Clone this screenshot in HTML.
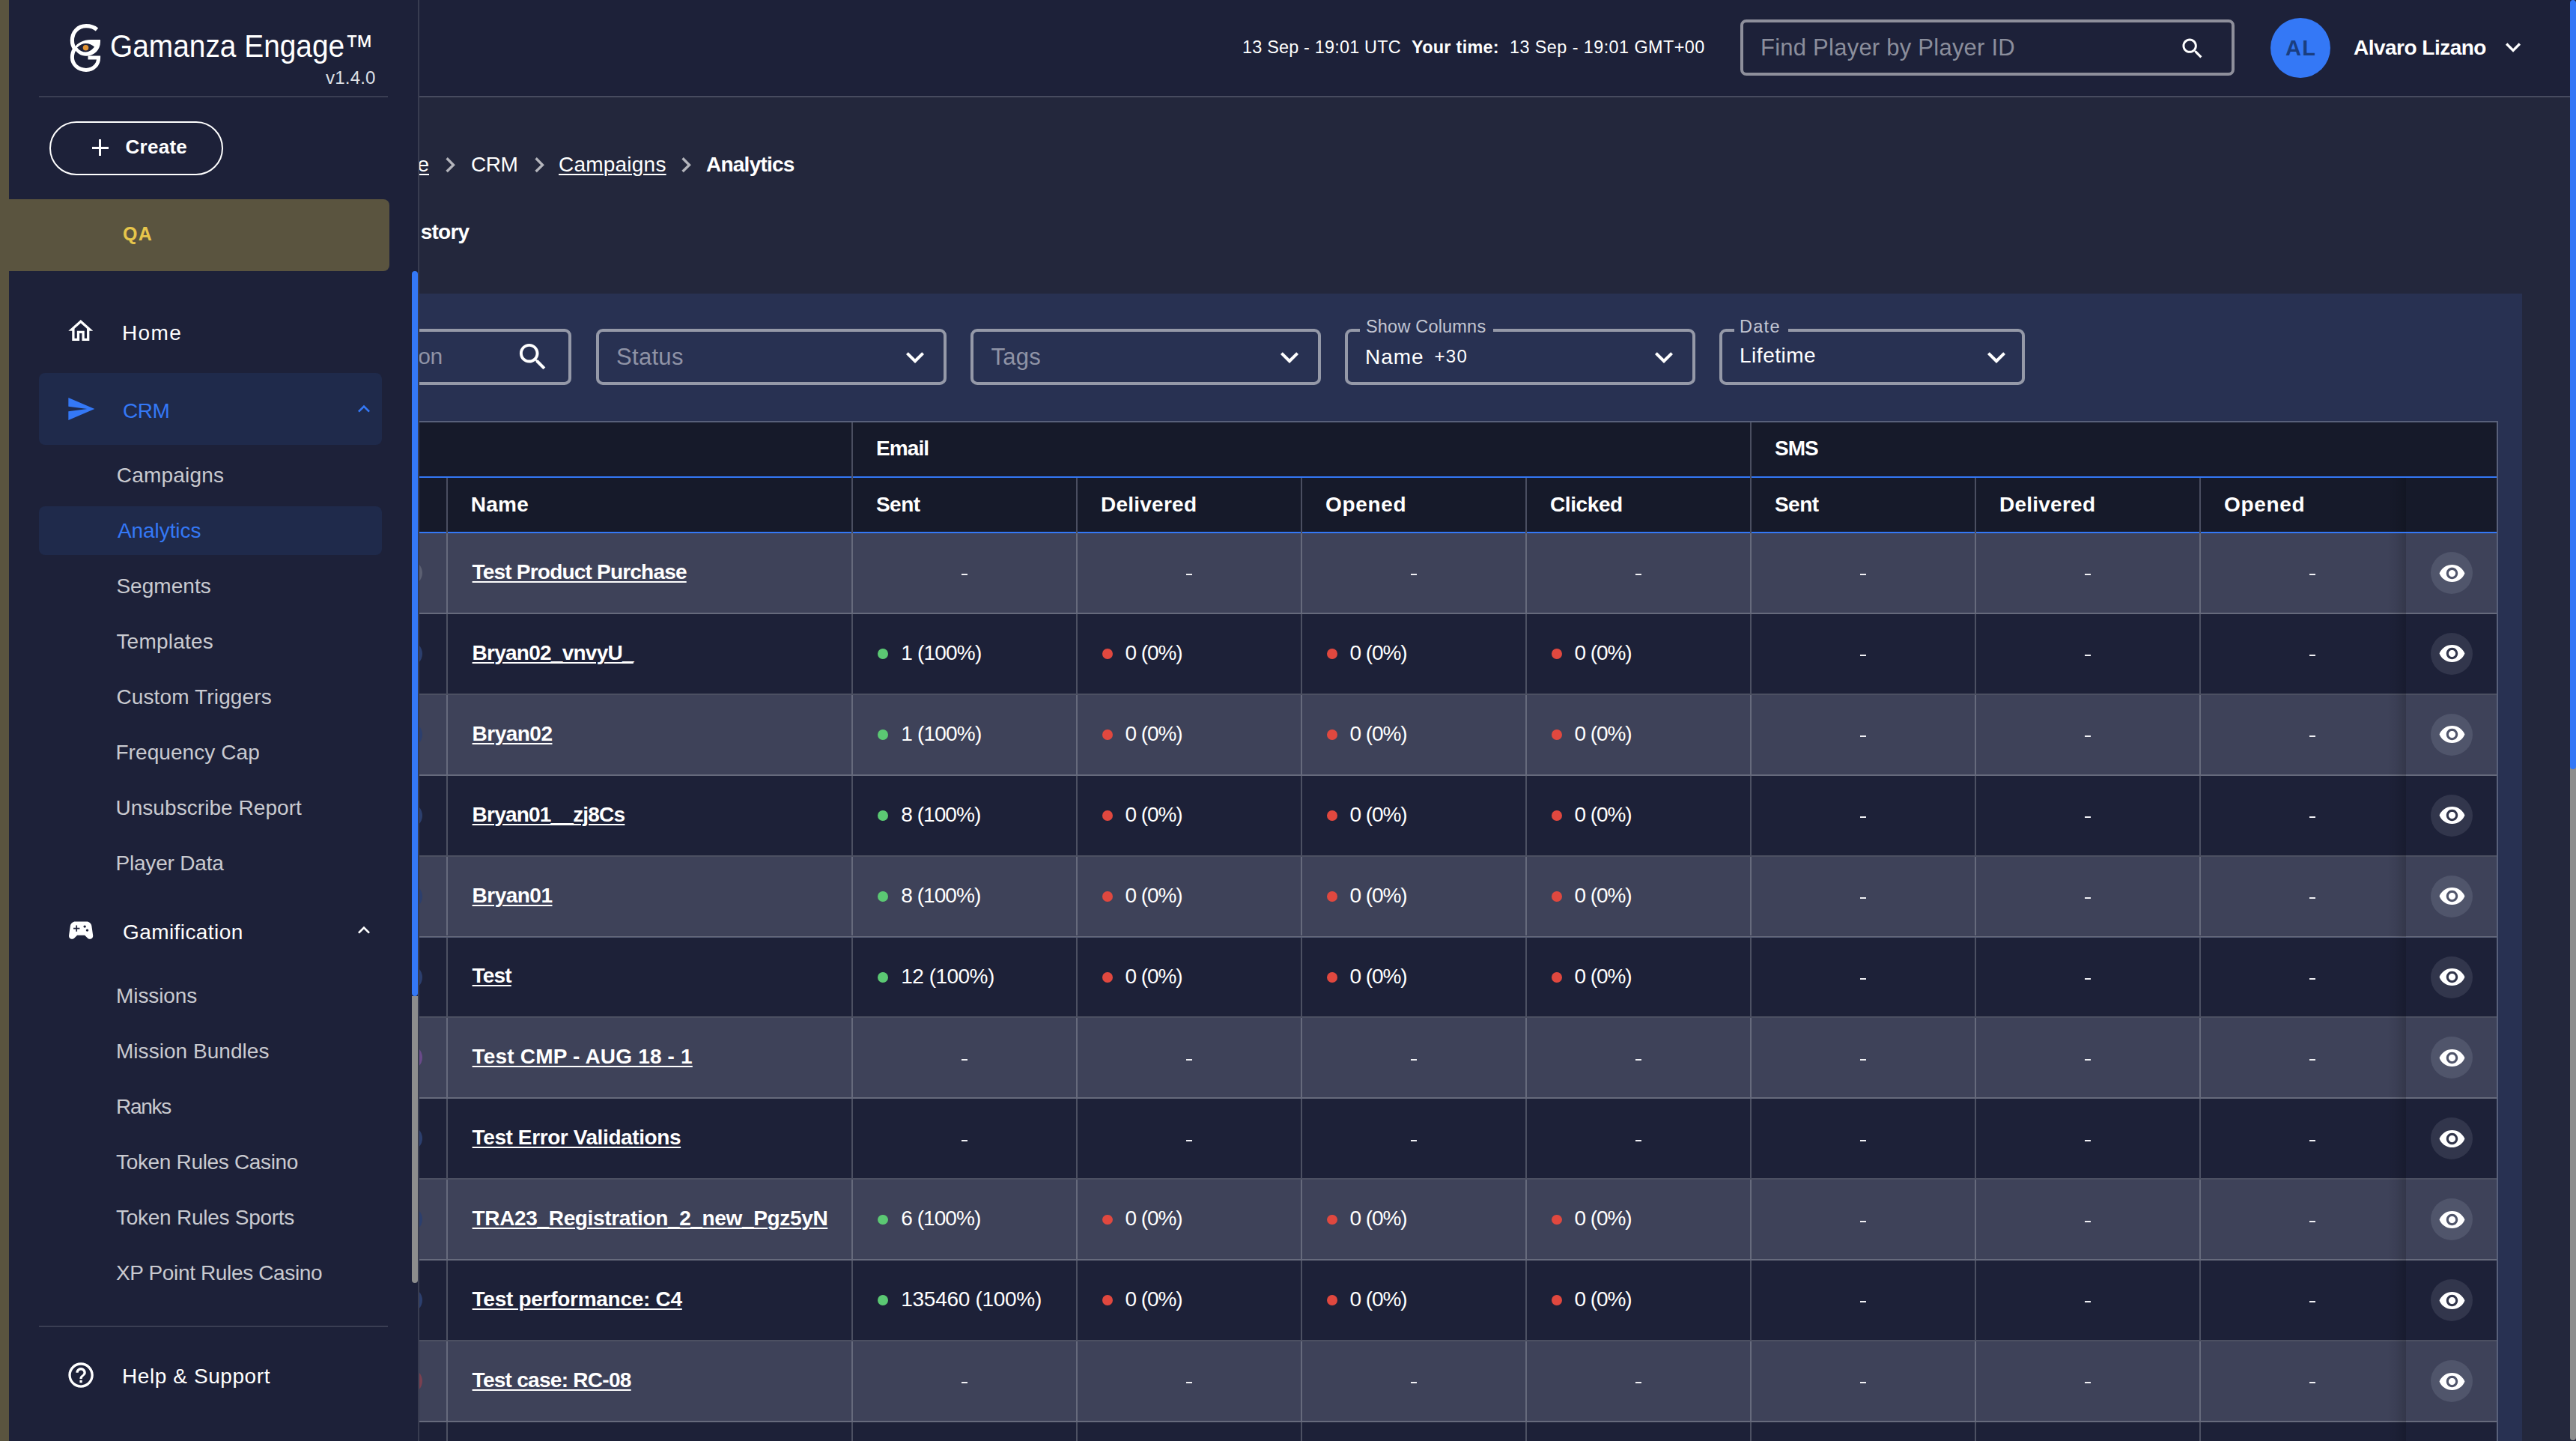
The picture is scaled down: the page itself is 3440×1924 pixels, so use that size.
<!DOCTYPE html>
<html><head><meta charset="utf-8"><title>Gamanza Engage - Analytics</title>
<style>
*{box-sizing:border-box;margin:0;padding:0}
html,body{width:3440px;height:1924px;overflow:hidden;background:#23273c;font-family:"Liberation Sans",Arial,sans-serif}
.t{position:absolute;line-height:1;white-space:nowrap}
.r{position:absolute}
.ic{position:absolute;overflow:visible}
.u{text-decoration:underline;text-decoration-thickness:2px;text-underline-offset:3px}
#side{position:absolute;left:0;top:0;width:560px;height:1924px;background:#1d2139;border-right:2px solid #383c50;z-index:5;overflow:hidden}
#main{position:absolute;left:0;top:0;width:3440px;height:1924px;overflow:hidden}
</style></head><body>
<div id="main">
<div class="r" style="left:0px;top:0px;width:3440px;height:128px;background:#1d2139;"></div>
<div class="r" style="left:0px;top:128px;width:3440px;height:2px;background:#474b5f;"></div>
<div class="t " style="left:1659px;top:52.11px;font-size:23.4px;color:#fff;font-weight:400;letter-spacing:0.21px;">13 Sep - 19:01 UTC</div>
<div class="t " style="left:1885px;top:52.11px;font-size:23.4px;color:#fff;font-weight:700;letter-spacing:0.3px;">Your time:</div>
<div class="t " style="left:2016px;top:52.11px;font-size:23.4px;color:#fff;font-weight:400;letter-spacing:0.43px;">13 Sep - 19:01 GMT+00</div>
<div class="r" style="left:2324px;top:26px;width:660px;height:75px;background:transparent;border:4px solid #8e8f9b;border-radius:8px"></div>
<div class="t " style="left:2351px;top:47.65px;font-size:31px;color:#8b8e9c;font-weight:400;letter-spacing:0.24px;">Find Player by Player ID</div>
<svg class="ic" style="left:2909.53px;top:46.53px;width:35.76px;height:35.76px" viewBox="0 0 24 24"><path fill="#fff" d="M15.5 14h-.79l-.28-.27C15.41 12.59 16 11.11 16 9.5 16 5.91 13.09 3 9.5 3S3 5.91 3 9.5 5.91 16 9.5 16c1.61 0 3.09-.59 4.23-1.57l.27.28v.79l5 4.99L20.49 19l-4.99-5zm-6 0C7.01 14 5 11.99 5 9.5S7.01 5 9.5 5 14 7.01 14 9.5 11.99 14 9.5 14z" /></svg>
<div class="r" style="left:3032px;top:24px;width:80px;height:80px;background:#3478f6;border-radius:50%"></div>
<div class="t " style="left:3032px;top:50.35px;font-size:29px;color:#1a3e80;font-weight:700;letter-spacing:1.5px;width:81.5px;text-align:center;">AL</div>
<div class="t " style="left:3143px;top:49.70px;font-size:28px;color:#fff;font-weight:700;letter-spacing:-0.51px;">Alvaro Lizano</div>
<svg class="ic" style="left:3335.98px;top:42.6547px;width:40.08px;height:40.08px" viewBox="0 0 24 24"><path fill="#fff" d="M16.59 8.59L12 13.17 7.41 8.59 6 10l6 6 6-6z" /></svg>
<div class="t u" style="left:573px;transform:translateX(-100%);top:205.70px;font-size:28px;color:#fff;font-weight:400;">Home</div>
<svg class="ic" style="left:580.5688px;top:199.92px;width:40.32px;height:40.32px" viewBox="0 0 24 24"><path fill="#b4b5bc" d="M10 6L8.59 7.41 13.17 12l-4.58 4.59L10 18l6-6z" /></svg>
<div class="t " style="left:629px;top:205.70px;font-size:28px;color:#fff;font-weight:400;letter-spacing:-0.53px;">CRM</div>
<svg class="ic" style="left:699.5688px;top:199.92px;width:40.32px;height:40.32px" viewBox="0 0 24 24"><path fill="#b4b5bc" d="M10 6L8.59 7.41 13.17 12l-4.58 4.59L10 18l6-6z" /></svg>
<div class="t u" style="left:746px;top:205.70px;font-size:28px;color:#fff;font-weight:400;letter-spacing:0.22px;">Campaigns</div>
<svg class="ic" style="left:896.1688px;top:199.92px;width:40.32px;height:40.32px" viewBox="0 0 24 24"><path fill="#b4b5bc" d="M10 6L8.59 7.41 13.17 12l-4.58 4.59L10 18l6-6z" /></svg>
<div class="t " style="left:943px;top:205.70px;font-size:28px;color:#fff;font-weight:700;letter-spacing:-0.76px;">Analytics</div>
<div class="t " style="left:626.3px;transform:translateX(-100%);top:295.50px;font-size:28px;color:#fff;font-weight:700;letter-spacing:-0.8px;">Campaign Hi<span style="margin-left:4px">story</span></div>
<div class="r" style="left:0px;top:392px;width:3368px;height:1600px;background:#283152;"></div>
<div class="r" style="left:300px;top:439px;width:463px;height:75px;background:transparent;border:4px solid #9599a8;border-radius:9px"></div>
<div class="t " style="left:590.5px;transform:translateX(-100%);top:461.00px;font-size:30px;color:#8f93a6;font-weight:400;letter-spacing:-0.6px;">Search by name or description</div>
<svg class="ic" style="left:688.09px;top:453.09px;width:47.28px;height:47.28px" viewBox="0 0 24 24"><path fill="#fff" d="M15.5 14h-.79l-.28-.27C15.41 12.59 16 11.11 16 9.5 16 5.91 13.09 3 9.5 3S3 5.91 3 9.5 5.91 16 9.5 16c1.61 0 3.09-.59 4.23-1.57l.27.28v.79l5 4.99L20.49 19l-4.99-5zm-6 0C7.01 14 5 11.99 5 9.5S7.01 5 9.5 5 14 7.01 14 9.5 11.99 14 9.5 14z" /></svg>
<div class="r" style="left:796px;top:439px;width:468px;height:75px;background:transparent;border:4px solid #9599a8;border-radius:9px"></div>
<div class="t " style="left:823px;top:460.65px;font-size:31px;color:#8f93a6;font-weight:400;letter-spacing:0.3px;">Status</div>
<svg class="ic" style="left:1198px;top:452.82px;width:48px;height:48px" viewBox="0 0 24 24"><path fill="#fff" d="M16.59 8.59L12 13.17 7.41 8.59 6 10l6 6 6-6z" /></svg>
<div class="r" style="left:1296px;top:439px;width:468px;height:75px;background:transparent;border:4px solid #9599a8;border-radius:9px"></div>
<div class="t " style="left:1323.4px;top:460.65px;font-size:31px;color:#8f93a6;font-weight:400;letter-spacing:0.3px;">Tags</div>
<svg class="ic" style="left:1698px;top:452.82px;width:48px;height:48px" viewBox="0 0 24 24"><path fill="#fff" d="M16.59 8.59L12 13.17 7.41 8.59 6 10l6 6 6-6z" /></svg>
<div class="r" style="left:1796px;top:439px;width:468px;height:75px;background:transparent;border:4px solid #9599a8;border-radius:9px"></div>
<div class="r" style="left:1816px;top:435px;width:178px;height:10px;background:#283152;"></div>
<div class="t " style="left:1824px;top:425.02px;font-size:23.5px;color:#c3c6d2;font-weight:400;letter-spacing:0.19px;">Show Columns</div>
<div class="t " style="left:1823px;top:463.20px;font-size:28px;color:#fff;font-weight:400;letter-spacing:1.0px;">Name</div>
<div class="t " style="left:1915.6px;top:464.10px;font-size:24px;color:#fff;font-weight:400;letter-spacing:1.26px;">+30</div>
<svg class="ic" style="left:2198px;top:452.82px;width:48px;height:48px" viewBox="0 0 24 24"><path fill="#fff" d="M16.59 8.59L12 13.17 7.41 8.59 6 10l6 6 6-6z" /></svg>
<div class="r" style="left:2296px;top:439px;width:408px;height:75px;background:transparent;border:4px solid #9599a8;border-radius:9px"></div>
<div class="r" style="left:2316px;top:435px;width:72px;height:10px;background:#283152;"></div>
<div class="t " style="left:2323px;top:425.02px;font-size:23.5px;color:#c3c6d2;font-weight:400;letter-spacing:1.27px;">Date</div>
<div class="t " style="left:2323px;top:460.70px;font-size:28px;color:#fff;font-weight:400;letter-spacing:0.52px;">Lifetime</div>
<svg class="ic" style="left:2642px;top:452.82px;width:48px;height:48px" viewBox="0 0 24 24"><path fill="#fff" d="M16.59 8.59L12 13.17 7.41 8.59 6 10l6 6 6-6z" /></svg>
<div class="r" style="left:300px;top:562px;width:3036px;height:2px;background:#58607a;"></div>
<div class="r" style="left:300px;top:564px;width:3034px;height:146px;background:#161a2a;"></div>
<div class="r" style="left:300px;top:636px;width:3034px;height:2px;background:#3478f6;"></div>
<div class="r" style="left:300px;top:710px;width:3034px;height:2px;background:#3478f6;"></div>
<div class="r" style="left:3334px;top:562px;width:2px;height:1400px;background:#58607a;"></div>
<div class="r" style="left:1137px;top:564px;width:2px;height:74px;background:#4a4e60;"></div>
<div class="r" style="left:2337px;top:564px;width:2px;height:74px;background:#4a4e60;"></div>
<div class="r" style="left:595.7px;top:638px;width:2px;height:74px;background:#4a4e60;"></div>
<div class="r" style="left:1137px;top:638px;width:2px;height:74px;background:#4a4e60;"></div>
<div class="r" style="left:1437px;top:638px;width:2px;height:74px;background:#4a4e60;"></div>
<div class="r" style="left:1737px;top:638px;width:2px;height:74px;background:#4a4e60;"></div>
<div class="r" style="left:2037px;top:638px;width:2px;height:74px;background:#4a4e60;"></div>
<div class="r" style="left:2337px;top:638px;width:2px;height:74px;background:#4a4e60;"></div>
<div class="r" style="left:2637px;top:638px;width:2px;height:74px;background:#4a4e60;"></div>
<div class="r" style="left:2937px;top:638px;width:2px;height:74px;background:#4a4e60;"></div>
<div class="t " style="left:1170px;top:585.20px;font-size:28px;color:#fff;font-weight:700;letter-spacing:-0.9px;">Email</div>
<div class="t " style="left:2370px;top:585.20px;font-size:28px;color:#fff;font-weight:700;letter-spacing:-1.0px;">SMS</div>
<div class="t " style="left:628.7px;top:659.70px;font-size:28px;color:#fff;font-weight:700;letter-spacing:0.31000000000000005px;">Name</div>
<div class="t " style="left:1170px;top:659.70px;font-size:28px;color:#fff;font-weight:700;letter-spacing:-0.5599999999999999px;">Sent</div>
<div class="t " style="left:1470px;top:659.70px;font-size:28px;color:#fff;font-weight:700;letter-spacing:0.24000000000000002px;">Delivered</div>
<div class="t " style="left:1770px;top:659.70px;font-size:28px;color:#fff;font-weight:700;letter-spacing:0.69px;">Opened</div>
<div class="t " style="left:2070px;top:659.70px;font-size:28px;color:#fff;font-weight:700;letter-spacing:-0.4px;">Clicked</div>
<div class="t " style="left:2370px;top:659.70px;font-size:28px;color:#fff;font-weight:700;letter-spacing:-0.5599999999999999px;">Sent</div>
<div class="t " style="left:2670px;top:659.70px;font-size:28px;color:#fff;font-weight:700;letter-spacing:0.24000000000000002px;">Delivered</div>
<div class="t " style="left:2970px;top:659.70px;font-size:28px;color:#fff;font-weight:700;letter-spacing:0.69px;">Opened</div>
<div class="r" style="left:300px;top:712.0px;width:3034px;height:107.9px;background:#3e4259;"></div>
<div class="r" style="left:300px;top:817.9px;width:3034px;height:2px;background:rgba(255,255,255,0.21);"></div>
<div class="r" style="left:530px;top:748.0px;width:34px;height:34px;background:#5c6072;border-radius:50%"></div>
<div class="r" style="left:595.7px;top:712.0px;width:2px;height:105.9px;background:rgba(255,255,255,0.21);"></div>
<div class="r" style="left:1137px;top:712.0px;width:2px;height:105.9px;background:rgba(255,255,255,0.21);"></div>
<div class="r" style="left:1437px;top:712.0px;width:2px;height:105.9px;background:rgba(255,255,255,0.21);"></div>
<div class="r" style="left:1737px;top:712.0px;width:2px;height:105.9px;background:rgba(255,255,255,0.21);"></div>
<div class="r" style="left:2037px;top:712.0px;width:2px;height:105.9px;background:rgba(255,255,255,0.21);"></div>
<div class="r" style="left:2337px;top:712.0px;width:2px;height:105.9px;background:rgba(255,255,255,0.21);"></div>
<div class="r" style="left:2637px;top:712.0px;width:2px;height:105.9px;background:rgba(255,255,255,0.21);"></div>
<div class="r" style="left:2937px;top:712.0px;width:2px;height:105.9px;background:rgba(255,255,255,0.21);"></div>
<div class="t u" style="left:630.6px;top:749.90px;font-size:28px;color:#fff;font-weight:700;letter-spacing:-0.8px;">Test Product Purchase</div>
<div class="r" style="left:1284.2px;top:766.3px;width:7.6px;height:2px;background:#f0f0f4;"></div>
<div class="r" style="left:1584.2px;top:766.3px;width:7.6px;height:2px;background:#f0f0f4;"></div>
<div class="r" style="left:1884.2px;top:766.3px;width:7.6px;height:2px;background:#f0f0f4;"></div>
<div class="r" style="left:2184.2px;top:766.3px;width:7.6px;height:2px;background:#f0f0f4;"></div>
<div class="r" style="left:2484.2px;top:766.3px;width:7.6px;height:2px;background:#f0f0f4;"></div>
<div class="r" style="left:2784.2px;top:766.3px;width:7.6px;height:2px;background:#f0f0f4;"></div>
<div class="r" style="left:3084.2px;top:766.3px;width:7.6px;height:2px;background:#f0f0f4;"></div>
<div class="r" style="left:3188px;top:712.0px;width:25px;height:107.9px;background:linear-gradient(to right,rgba(0,0,0,0) 0%,rgba(0,0,0,0.05) 45%,rgba(0,0,0,0.17) 100%);"></div>
<div class="r" style="left:3213px;top:712.0px;width:121px;height:105.9px;background:#3e4259;"></div>
<div class="r" style="left:3246px;top:737.0px;width:56px;height:56px;background:#50556b;border-radius:50%"></div>
<svg class="ic" style="left:3255.5px;top:746.5px;width:37px;height:37px" viewBox="0 0 24 24"><path fill="#fff" d="M12 4.5C7 4.5 2.73 7.61 1 12c1.73 4.39 6 7.5 11 7.5s9.27-3.11 11-7.5c-1.73-4.39-6-7.5-11-7.5zM12 17c-2.76 0-5-2.24-5-5s2.24-5 5-5 5 2.24 5 5-2.24 5-5 5zm0-8c-1.66 0-3 1.34-3 3s1.34 3 3 3 3-1.34 3-3-1.34-3-3-3z" /></svg>
<div class="r" style="left:300px;top:819.9px;width:3034px;height:107.9px;background:#1d2138;"></div>
<div class="r" style="left:300px;top:925.8px;width:3034px;height:2px;background:rgba(255,255,255,0.21);"></div>
<div class="r" style="left:530px;top:855.9px;width:34px;height:34px;background:#2c3f6e;border-radius:50%"></div>
<div class="r" style="left:595.7px;top:819.9px;width:2px;height:105.9px;background:rgba(255,255,255,0.21);"></div>
<div class="r" style="left:1137px;top:819.9px;width:2px;height:105.9px;background:rgba(255,255,255,0.21);"></div>
<div class="r" style="left:1437px;top:819.9px;width:2px;height:105.9px;background:rgba(255,255,255,0.21);"></div>
<div class="r" style="left:1737px;top:819.9px;width:2px;height:105.9px;background:rgba(255,255,255,0.21);"></div>
<div class="r" style="left:2037px;top:819.9px;width:2px;height:105.9px;background:rgba(255,255,255,0.21);"></div>
<div class="r" style="left:2337px;top:819.9px;width:2px;height:105.9px;background:rgba(255,255,255,0.21);"></div>
<div class="r" style="left:2637px;top:819.9px;width:2px;height:105.9px;background:rgba(255,255,255,0.21);"></div>
<div class="r" style="left:2937px;top:819.9px;width:2px;height:105.9px;background:rgba(255,255,255,0.21);"></div>
<div class="t u" style="left:630.6px;top:857.80px;font-size:28px;color:#fff;font-weight:700;letter-spacing:-0.75px;">Bryan02_vnvyU_</div>
<div class="r" style="left:1172px;top:866.2px;width:13.8px;height:13.8px;background:#5bc873;border-radius:50%"></div>
<div class="t " style="left:1203.3px;top:858.10px;font-size:28px;color:#fff;font-weight:400;letter-spacing:-0.81px;">1 (100%)</div>
<div class="r" style="left:1472px;top:866.2px;width:13.8px;height:13.8px;background:#e0483f;border-radius:50%"></div>
<div class="t " style="left:1502.6px;top:858.10px;font-size:28px;color:#fff;font-weight:400;letter-spacing:-1.1px;">0 (0%)</div>
<div class="r" style="left:1772px;top:866.2px;width:13.8px;height:13.8px;background:#e0483f;border-radius:50%"></div>
<div class="t " style="left:1802.6px;top:858.10px;font-size:28px;color:#fff;font-weight:400;letter-spacing:-1.1px;">0 (0%)</div>
<div class="r" style="left:2072px;top:866.2px;width:13.8px;height:13.8px;background:#e0483f;border-radius:50%"></div>
<div class="t " style="left:2102.6px;top:858.10px;font-size:28px;color:#fff;font-weight:400;letter-spacing:-1.1px;">0 (0%)</div>
<div class="r" style="left:2484.2px;top:874.1999999999999px;width:7.6px;height:2px;background:#f0f0f4;"></div>
<div class="r" style="left:2784.2px;top:874.1999999999999px;width:7.6px;height:2px;background:#f0f0f4;"></div>
<div class="r" style="left:3084.2px;top:874.1999999999999px;width:7.6px;height:2px;background:#f0f0f4;"></div>
<div class="r" style="left:3188px;top:819.9px;width:25px;height:107.9px;background:linear-gradient(to right,rgba(0,0,0,0) 0%,rgba(0,0,0,0.05) 45%,rgba(0,0,0,0.17) 100%);"></div>
<div class="r" style="left:3213px;top:819.9px;width:121px;height:105.9px;background:#1d2138;"></div>
<div class="r" style="left:3246px;top:844.9px;width:56px;height:56px;background:#32364c;border-radius:50%"></div>
<svg class="ic" style="left:3255.5px;top:854.4px;width:37px;height:37px" viewBox="0 0 24 24"><path fill="#fff" d="M12 4.5C7 4.5 2.73 7.61 1 12c1.73 4.39 6 7.5 11 7.5s9.27-3.11 11-7.5c-1.73-4.39-6-7.5-11-7.5zM12 17c-2.76 0-5-2.24-5-5s2.24-5 5-5 5 2.24 5 5-2.24 5-5 5zm0-8c-1.66 0-3 1.34-3 3s1.34 3 3 3 3-1.34 3-3-1.34-3-3-3z" /></svg>
<div class="r" style="left:300px;top:927.8px;width:3034px;height:107.9px;background:#3e4259;"></div>
<div class="r" style="left:300px;top:1033.7px;width:3034px;height:2px;background:rgba(255,255,255,0.21);"></div>
<div class="r" style="left:530px;top:963.8px;width:34px;height:34px;background:#2c3f6e;border-radius:50%"></div>
<div class="r" style="left:595.7px;top:927.8px;width:2px;height:105.9px;background:rgba(255,255,255,0.21);"></div>
<div class="r" style="left:1137px;top:927.8px;width:2px;height:105.9px;background:rgba(255,255,255,0.21);"></div>
<div class="r" style="left:1437px;top:927.8px;width:2px;height:105.9px;background:rgba(255,255,255,0.21);"></div>
<div class="r" style="left:1737px;top:927.8px;width:2px;height:105.9px;background:rgba(255,255,255,0.21);"></div>
<div class="r" style="left:2037px;top:927.8px;width:2px;height:105.9px;background:rgba(255,255,255,0.21);"></div>
<div class="r" style="left:2337px;top:927.8px;width:2px;height:105.9px;background:rgba(255,255,255,0.21);"></div>
<div class="r" style="left:2637px;top:927.8px;width:2px;height:105.9px;background:rgba(255,255,255,0.21);"></div>
<div class="r" style="left:2937px;top:927.8px;width:2px;height:105.9px;background:rgba(255,255,255,0.21);"></div>
<div class="t u" style="left:630.6px;top:965.70px;font-size:28px;color:#fff;font-weight:700;letter-spacing:-0.52px;">Bryan02</div>
<div class="r" style="left:1172px;top:974.1px;width:13.8px;height:13.8px;background:#5bc873;border-radius:50%"></div>
<div class="t " style="left:1203.3px;top:966.00px;font-size:28px;color:#fff;font-weight:400;letter-spacing:-0.81px;">1 (100%)</div>
<div class="r" style="left:1472px;top:974.1px;width:13.8px;height:13.8px;background:#e0483f;border-radius:50%"></div>
<div class="t " style="left:1502.6px;top:966.00px;font-size:28px;color:#fff;font-weight:400;letter-spacing:-1.1px;">0 (0%)</div>
<div class="r" style="left:1772px;top:974.1px;width:13.8px;height:13.8px;background:#e0483f;border-radius:50%"></div>
<div class="t " style="left:1802.6px;top:966.00px;font-size:28px;color:#fff;font-weight:400;letter-spacing:-1.1px;">0 (0%)</div>
<div class="r" style="left:2072px;top:974.1px;width:13.8px;height:13.8px;background:#e0483f;border-radius:50%"></div>
<div class="t " style="left:2102.6px;top:966.00px;font-size:28px;color:#fff;font-weight:400;letter-spacing:-1.1px;">0 (0%)</div>
<div class="r" style="left:2484.2px;top:982.0999999999999px;width:7.6px;height:2px;background:#f0f0f4;"></div>
<div class="r" style="left:2784.2px;top:982.0999999999999px;width:7.6px;height:2px;background:#f0f0f4;"></div>
<div class="r" style="left:3084.2px;top:982.0999999999999px;width:7.6px;height:2px;background:#f0f0f4;"></div>
<div class="r" style="left:3188px;top:927.8px;width:25px;height:107.9px;background:linear-gradient(to right,rgba(0,0,0,0) 0%,rgba(0,0,0,0.05) 45%,rgba(0,0,0,0.17) 100%);"></div>
<div class="r" style="left:3213px;top:927.8px;width:121px;height:105.9px;background:#3e4259;"></div>
<div class="r" style="left:3246px;top:952.8px;width:56px;height:56px;background:#50556b;border-radius:50%"></div>
<svg class="ic" style="left:3255.5px;top:962.3px;width:37px;height:37px" viewBox="0 0 24 24"><path fill="#fff" d="M12 4.5C7 4.5 2.73 7.61 1 12c1.73 4.39 6 7.5 11 7.5s9.27-3.11 11-7.5c-1.73-4.39-6-7.5-11-7.5zM12 17c-2.76 0-5-2.24-5-5s2.24-5 5-5 5 2.24 5 5-2.24 5-5 5zm0-8c-1.66 0-3 1.34-3 3s1.34 3 3 3 3-1.34 3-3-1.34-3-3-3z" /></svg>
<div class="r" style="left:300px;top:1035.7px;width:3034px;height:107.9px;background:#1d2138;"></div>
<div class="r" style="left:300px;top:1141.6000000000001px;width:3034px;height:2px;background:rgba(255,255,255,0.21);"></div>
<div class="r" style="left:530px;top:1071.7px;width:34px;height:34px;background:#2c3f6e;border-radius:50%"></div>
<div class="r" style="left:595.7px;top:1035.7px;width:2px;height:105.9px;background:rgba(255,255,255,0.21);"></div>
<div class="r" style="left:1137px;top:1035.7px;width:2px;height:105.9px;background:rgba(255,255,255,0.21);"></div>
<div class="r" style="left:1437px;top:1035.7px;width:2px;height:105.9px;background:rgba(255,255,255,0.21);"></div>
<div class="r" style="left:1737px;top:1035.7px;width:2px;height:105.9px;background:rgba(255,255,255,0.21);"></div>
<div class="r" style="left:2037px;top:1035.7px;width:2px;height:105.9px;background:rgba(255,255,255,0.21);"></div>
<div class="r" style="left:2337px;top:1035.7px;width:2px;height:105.9px;background:rgba(255,255,255,0.21);"></div>
<div class="r" style="left:2637px;top:1035.7px;width:2px;height:105.9px;background:rgba(255,255,255,0.21);"></div>
<div class="r" style="left:2937px;top:1035.7px;width:2px;height:105.9px;background:rgba(255,255,255,0.21);"></div>
<div class="t u" style="left:630.6px;top:1073.60px;font-size:28px;color:#fff;font-weight:700;letter-spacing:-0.79px;">Bryan01__zj8Cs</div>
<div class="r" style="left:1172px;top:1082.0px;width:13.8px;height:13.8px;background:#5bc873;border-radius:50%"></div>
<div class="t " style="left:1203.3px;top:1073.90px;font-size:28px;color:#fff;font-weight:400;letter-spacing:-0.95px;">8 (100%)</div>
<div class="r" style="left:1472px;top:1082.0px;width:13.8px;height:13.8px;background:#e0483f;border-radius:50%"></div>
<div class="t " style="left:1502.6px;top:1073.90px;font-size:28px;color:#fff;font-weight:400;letter-spacing:-1.1px;">0 (0%)</div>
<div class="r" style="left:1772px;top:1082.0px;width:13.8px;height:13.8px;background:#e0483f;border-radius:50%"></div>
<div class="t " style="left:1802.6px;top:1073.90px;font-size:28px;color:#fff;font-weight:400;letter-spacing:-1.1px;">0 (0%)</div>
<div class="r" style="left:2072px;top:1082.0px;width:13.8px;height:13.8px;background:#e0483f;border-radius:50%"></div>
<div class="t " style="left:2102.6px;top:1073.90px;font-size:28px;color:#fff;font-weight:400;letter-spacing:-1.1px;">0 (0%)</div>
<div class="r" style="left:2484.2px;top:1090.0px;width:7.6px;height:2px;background:#f0f0f4;"></div>
<div class="r" style="left:2784.2px;top:1090.0px;width:7.6px;height:2px;background:#f0f0f4;"></div>
<div class="r" style="left:3084.2px;top:1090.0px;width:7.6px;height:2px;background:#f0f0f4;"></div>
<div class="r" style="left:3188px;top:1035.7px;width:25px;height:107.9px;background:linear-gradient(to right,rgba(0,0,0,0) 0%,rgba(0,0,0,0.05) 45%,rgba(0,0,0,0.17) 100%);"></div>
<div class="r" style="left:3213px;top:1035.7px;width:121px;height:105.9px;background:#1d2138;"></div>
<div class="r" style="left:3246px;top:1060.7px;width:56px;height:56px;background:#32364c;border-radius:50%"></div>
<svg class="ic" style="left:3255.5px;top:1070.2px;width:37px;height:37px" viewBox="0 0 24 24"><path fill="#fff" d="M12 4.5C7 4.5 2.73 7.61 1 12c1.73 4.39 6 7.5 11 7.5s9.27-3.11 11-7.5c-1.73-4.39-6-7.5-11-7.5zM12 17c-2.76 0-5-2.24-5-5s2.24-5 5-5 5 2.24 5 5-2.24 5-5 5zm0-8c-1.66 0-3 1.34-3 3s1.34 3 3 3 3-1.34 3-3-1.34-3-3-3z" /></svg>
<div class="r" style="left:300px;top:1143.6px;width:3034px;height:107.9px;background:#3e4259;"></div>
<div class="r" style="left:300px;top:1249.5px;width:3034px;height:2px;background:rgba(255,255,255,0.21);"></div>
<div class="r" style="left:530px;top:1179.6px;width:34px;height:34px;background:#2c3f6e;border-radius:50%"></div>
<div class="r" style="left:595.7px;top:1143.6px;width:2px;height:105.9px;background:rgba(255,255,255,0.21);"></div>
<div class="r" style="left:1137px;top:1143.6px;width:2px;height:105.9px;background:rgba(255,255,255,0.21);"></div>
<div class="r" style="left:1437px;top:1143.6px;width:2px;height:105.9px;background:rgba(255,255,255,0.21);"></div>
<div class="r" style="left:1737px;top:1143.6px;width:2px;height:105.9px;background:rgba(255,255,255,0.21);"></div>
<div class="r" style="left:2037px;top:1143.6px;width:2px;height:105.9px;background:rgba(255,255,255,0.21);"></div>
<div class="r" style="left:2337px;top:1143.6px;width:2px;height:105.9px;background:rgba(255,255,255,0.21);"></div>
<div class="r" style="left:2637px;top:1143.6px;width:2px;height:105.9px;background:rgba(255,255,255,0.21);"></div>
<div class="r" style="left:2937px;top:1143.6px;width:2px;height:105.9px;background:rgba(255,255,255,0.21);"></div>
<div class="t u" style="left:630.6px;top:1181.50px;font-size:28px;color:#fff;font-weight:700;letter-spacing:-0.52px;">Bryan01</div>
<div class="r" style="left:1172px;top:1189.8999999999999px;width:13.8px;height:13.8px;background:#5bc873;border-radius:50%"></div>
<div class="t " style="left:1203.3px;top:1181.80px;font-size:28px;color:#fff;font-weight:400;letter-spacing:-0.95px;">8 (100%)</div>
<div class="r" style="left:1472px;top:1189.8999999999999px;width:13.8px;height:13.8px;background:#e0483f;border-radius:50%"></div>
<div class="t " style="left:1502.6px;top:1181.80px;font-size:28px;color:#fff;font-weight:400;letter-spacing:-1.1px;">0 (0%)</div>
<div class="r" style="left:1772px;top:1189.8999999999999px;width:13.8px;height:13.8px;background:#e0483f;border-radius:50%"></div>
<div class="t " style="left:1802.6px;top:1181.80px;font-size:28px;color:#fff;font-weight:400;letter-spacing:-1.1px;">0 (0%)</div>
<div class="r" style="left:2072px;top:1189.8999999999999px;width:13.8px;height:13.8px;background:#e0483f;border-radius:50%"></div>
<div class="t " style="left:2102.6px;top:1181.80px;font-size:28px;color:#fff;font-weight:400;letter-spacing:-1.1px;">0 (0%)</div>
<div class="r" style="left:2484.2px;top:1197.8999999999999px;width:7.6px;height:2px;background:#f0f0f4;"></div>
<div class="r" style="left:2784.2px;top:1197.8999999999999px;width:7.6px;height:2px;background:#f0f0f4;"></div>
<div class="r" style="left:3084.2px;top:1197.8999999999999px;width:7.6px;height:2px;background:#f0f0f4;"></div>
<div class="r" style="left:3188px;top:1143.6px;width:25px;height:107.9px;background:linear-gradient(to right,rgba(0,0,0,0) 0%,rgba(0,0,0,0.05) 45%,rgba(0,0,0,0.17) 100%);"></div>
<div class="r" style="left:3213px;top:1143.6px;width:121px;height:105.9px;background:#3e4259;"></div>
<div class="r" style="left:3246px;top:1168.6px;width:56px;height:56px;background:#50556b;border-radius:50%"></div>
<svg class="ic" style="left:3255.5px;top:1178.1px;width:37px;height:37px" viewBox="0 0 24 24"><path fill="#fff" d="M12 4.5C7 4.5 2.73 7.61 1 12c1.73 4.39 6 7.5 11 7.5s9.27-3.11 11-7.5c-1.73-4.39-6-7.5-11-7.5zM12 17c-2.76 0-5-2.24-5-5s2.24-5 5-5 5 2.24 5 5-2.24 5-5 5zm0-8c-1.66 0-3 1.34-3 3s1.34 3 3 3 3-1.34 3-3-1.34-3-3-3z" /></svg>
<div class="r" style="left:300px;top:1251.5px;width:3034px;height:107.9px;background:#1d2138;"></div>
<div class="r" style="left:300px;top:1357.4px;width:3034px;height:2px;background:rgba(255,255,255,0.21);"></div>
<div class="r" style="left:530px;top:1287.5px;width:34px;height:34px;background:#2c3f6e;border-radius:50%"></div>
<div class="r" style="left:595.7px;top:1251.5px;width:2px;height:105.9px;background:rgba(255,255,255,0.21);"></div>
<div class="r" style="left:1137px;top:1251.5px;width:2px;height:105.9px;background:rgba(255,255,255,0.21);"></div>
<div class="r" style="left:1437px;top:1251.5px;width:2px;height:105.9px;background:rgba(255,255,255,0.21);"></div>
<div class="r" style="left:1737px;top:1251.5px;width:2px;height:105.9px;background:rgba(255,255,255,0.21);"></div>
<div class="r" style="left:2037px;top:1251.5px;width:2px;height:105.9px;background:rgba(255,255,255,0.21);"></div>
<div class="r" style="left:2337px;top:1251.5px;width:2px;height:105.9px;background:rgba(255,255,255,0.21);"></div>
<div class="r" style="left:2637px;top:1251.5px;width:2px;height:105.9px;background:rgba(255,255,255,0.21);"></div>
<div class="r" style="left:2937px;top:1251.5px;width:2px;height:105.9px;background:rgba(255,255,255,0.21);"></div>
<div class="t u" style="left:630.6px;top:1289.40px;font-size:28px;color:#fff;font-weight:700;letter-spacing:-0.83px;">Test</div>
<div class="r" style="left:1172px;top:1297.8px;width:13.8px;height:13.8px;background:#5bc873;border-radius:50%"></div>
<div class="t " style="left:1203.3px;top:1289.70px;font-size:28px;color:#fff;font-weight:400;letter-spacing:-0.53px;">12 (100%)</div>
<div class="r" style="left:1472px;top:1297.8px;width:13.8px;height:13.8px;background:#e0483f;border-radius:50%"></div>
<div class="t " style="left:1502.6px;top:1289.70px;font-size:28px;color:#fff;font-weight:400;letter-spacing:-1.1px;">0 (0%)</div>
<div class="r" style="left:1772px;top:1297.8px;width:13.8px;height:13.8px;background:#e0483f;border-radius:50%"></div>
<div class="t " style="left:1802.6px;top:1289.70px;font-size:28px;color:#fff;font-weight:400;letter-spacing:-1.1px;">0 (0%)</div>
<div class="r" style="left:2072px;top:1297.8px;width:13.8px;height:13.8px;background:#e0483f;border-radius:50%"></div>
<div class="t " style="left:2102.6px;top:1289.70px;font-size:28px;color:#fff;font-weight:400;letter-spacing:-1.1px;">0 (0%)</div>
<div class="r" style="left:2484.2px;top:1305.8px;width:7.6px;height:2px;background:#f0f0f4;"></div>
<div class="r" style="left:2784.2px;top:1305.8px;width:7.6px;height:2px;background:#f0f0f4;"></div>
<div class="r" style="left:3084.2px;top:1305.8px;width:7.6px;height:2px;background:#f0f0f4;"></div>
<div class="r" style="left:3188px;top:1251.5px;width:25px;height:107.9px;background:linear-gradient(to right,rgba(0,0,0,0) 0%,rgba(0,0,0,0.05) 45%,rgba(0,0,0,0.17) 100%);"></div>
<div class="r" style="left:3213px;top:1251.5px;width:121px;height:105.9px;background:#1d2138;"></div>
<div class="r" style="left:3246px;top:1276.5px;width:56px;height:56px;background:#32364c;border-radius:50%"></div>
<svg class="ic" style="left:3255.5px;top:1286.0px;width:37px;height:37px" viewBox="0 0 24 24"><path fill="#fff" d="M12 4.5C7 4.5 2.73 7.61 1 12c1.73 4.39 6 7.5 11 7.5s9.27-3.11 11-7.5c-1.73-4.39-6-7.5-11-7.5zM12 17c-2.76 0-5-2.24-5-5s2.24-5 5-5 5 2.24 5 5-2.24 5-5 5zm0-8c-1.66 0-3 1.34-3 3s1.34 3 3 3 3-1.34 3-3-1.34-3-3-3z" /></svg>
<div class="r" style="left:300px;top:1359.4px;width:3034px;height:107.9px;background:#3e4259;"></div>
<div class="r" style="left:300px;top:1465.3000000000002px;width:3034px;height:2px;background:rgba(255,255,255,0.21);"></div>
<div class="r" style="left:530px;top:1395.4px;width:34px;height:34px;background:#6a4a8a;border-radius:50%"></div>
<div class="r" style="left:595.7px;top:1359.4px;width:2px;height:105.9px;background:rgba(255,255,255,0.21);"></div>
<div class="r" style="left:1137px;top:1359.4px;width:2px;height:105.9px;background:rgba(255,255,255,0.21);"></div>
<div class="r" style="left:1437px;top:1359.4px;width:2px;height:105.9px;background:rgba(255,255,255,0.21);"></div>
<div class="r" style="left:1737px;top:1359.4px;width:2px;height:105.9px;background:rgba(255,255,255,0.21);"></div>
<div class="r" style="left:2037px;top:1359.4px;width:2px;height:105.9px;background:rgba(255,255,255,0.21);"></div>
<div class="r" style="left:2337px;top:1359.4px;width:2px;height:105.9px;background:rgba(255,255,255,0.21);"></div>
<div class="r" style="left:2637px;top:1359.4px;width:2px;height:105.9px;background:rgba(255,255,255,0.21);"></div>
<div class="r" style="left:2937px;top:1359.4px;width:2px;height:105.9px;background:rgba(255,255,255,0.21);"></div>
<div class="t u" style="left:630.6px;top:1397.30px;font-size:28px;color:#fff;font-weight:700;letter-spacing:0.18px;">Test CMP - AUG 18 - 1</div>
<div class="r" style="left:1284.2px;top:1413.7px;width:7.6px;height:2px;background:#f0f0f4;"></div>
<div class="r" style="left:1584.2px;top:1413.7px;width:7.6px;height:2px;background:#f0f0f4;"></div>
<div class="r" style="left:1884.2px;top:1413.7px;width:7.6px;height:2px;background:#f0f0f4;"></div>
<div class="r" style="left:2184.2px;top:1413.7px;width:7.6px;height:2px;background:#f0f0f4;"></div>
<div class="r" style="left:2484.2px;top:1413.7px;width:7.6px;height:2px;background:#f0f0f4;"></div>
<div class="r" style="left:2784.2px;top:1413.7px;width:7.6px;height:2px;background:#f0f0f4;"></div>
<div class="r" style="left:3084.2px;top:1413.7px;width:7.6px;height:2px;background:#f0f0f4;"></div>
<div class="r" style="left:3188px;top:1359.4px;width:25px;height:107.9px;background:linear-gradient(to right,rgba(0,0,0,0) 0%,rgba(0,0,0,0.05) 45%,rgba(0,0,0,0.17) 100%);"></div>
<div class="r" style="left:3213px;top:1359.4px;width:121px;height:105.9px;background:#3e4259;"></div>
<div class="r" style="left:3246px;top:1384.4px;width:56px;height:56px;background:#50556b;border-radius:50%"></div>
<svg class="ic" style="left:3255.5px;top:1393.9px;width:37px;height:37px" viewBox="0 0 24 24"><path fill="#fff" d="M12 4.5C7 4.5 2.73 7.61 1 12c1.73 4.39 6 7.5 11 7.5s9.27-3.11 11-7.5c-1.73-4.39-6-7.5-11-7.5zM12 17c-2.76 0-5-2.24-5-5s2.24-5 5-5 5 2.24 5 5-2.24 5-5 5zm0-8c-1.66 0-3 1.34-3 3s1.34 3 3 3 3-1.34 3-3-1.34-3-3-3z" /></svg>
<div class="r" style="left:300px;top:1467.3000000000002px;width:3034px;height:107.9px;background:#1d2138;"></div>
<div class="r" style="left:300px;top:1573.2000000000003px;width:3034px;height:2px;background:rgba(255,255,255,0.21);"></div>
<div class="r" style="left:530px;top:1503.3000000000002px;width:34px;height:34px;background:#2c3f6e;border-radius:50%"></div>
<div class="r" style="left:595.7px;top:1467.3000000000002px;width:2px;height:105.9px;background:rgba(255,255,255,0.21);"></div>
<div class="r" style="left:1137px;top:1467.3000000000002px;width:2px;height:105.9px;background:rgba(255,255,255,0.21);"></div>
<div class="r" style="left:1437px;top:1467.3000000000002px;width:2px;height:105.9px;background:rgba(255,255,255,0.21);"></div>
<div class="r" style="left:1737px;top:1467.3000000000002px;width:2px;height:105.9px;background:rgba(255,255,255,0.21);"></div>
<div class="r" style="left:2037px;top:1467.3000000000002px;width:2px;height:105.9px;background:rgba(255,255,255,0.21);"></div>
<div class="r" style="left:2337px;top:1467.3000000000002px;width:2px;height:105.9px;background:rgba(255,255,255,0.21);"></div>
<div class="r" style="left:2637px;top:1467.3000000000002px;width:2px;height:105.9px;background:rgba(255,255,255,0.21);"></div>
<div class="r" style="left:2937px;top:1467.3000000000002px;width:2px;height:105.9px;background:rgba(255,255,255,0.21);"></div>
<div class="t u" style="left:630.6px;top:1505.20px;font-size:28px;color:#fff;font-weight:700;letter-spacing:-0.4px;">Test Error Validations</div>
<div class="r" style="left:1284.2px;top:1521.6000000000001px;width:7.6px;height:2px;background:#f0f0f4;"></div>
<div class="r" style="left:1584.2px;top:1521.6000000000001px;width:7.6px;height:2px;background:#f0f0f4;"></div>
<div class="r" style="left:1884.2px;top:1521.6000000000001px;width:7.6px;height:2px;background:#f0f0f4;"></div>
<div class="r" style="left:2184.2px;top:1521.6000000000001px;width:7.6px;height:2px;background:#f0f0f4;"></div>
<div class="r" style="left:2484.2px;top:1521.6000000000001px;width:7.6px;height:2px;background:#f0f0f4;"></div>
<div class="r" style="left:2784.2px;top:1521.6000000000001px;width:7.6px;height:2px;background:#f0f0f4;"></div>
<div class="r" style="left:3084.2px;top:1521.6000000000001px;width:7.6px;height:2px;background:#f0f0f4;"></div>
<div class="r" style="left:3188px;top:1467.3000000000002px;width:25px;height:107.9px;background:linear-gradient(to right,rgba(0,0,0,0) 0%,rgba(0,0,0,0.05) 45%,rgba(0,0,0,0.17) 100%);"></div>
<div class="r" style="left:3213px;top:1467.3000000000002px;width:121px;height:105.9px;background:#1d2138;"></div>
<div class="r" style="left:3246px;top:1492.3000000000002px;width:56px;height:56px;background:#32364c;border-radius:50%"></div>
<svg class="ic" style="left:3255.5px;top:1501.8000000000002px;width:37px;height:37px" viewBox="0 0 24 24"><path fill="#fff" d="M12 4.5C7 4.5 2.73 7.61 1 12c1.73 4.39 6 7.5 11 7.5s9.27-3.11 11-7.5c-1.73-4.39-6-7.5-11-7.5zM12 17c-2.76 0-5-2.24-5-5s2.24-5 5-5 5 2.24 5 5-2.24 5-5 5zm0-8c-1.66 0-3 1.34-3 3s1.34 3 3 3 3-1.34 3-3-1.34-3-3-3z" /></svg>
<div class="r" style="left:300px;top:1575.2px;width:3034px;height:107.9px;background:#3e4259;"></div>
<div class="r" style="left:300px;top:1681.1000000000001px;width:3034px;height:2px;background:rgba(255,255,255,0.21);"></div>
<div class="r" style="left:530px;top:1611.2px;width:34px;height:34px;background:#2c3f6e;border-radius:50%"></div>
<div class="r" style="left:595.7px;top:1575.2px;width:2px;height:105.9px;background:rgba(255,255,255,0.21);"></div>
<div class="r" style="left:1137px;top:1575.2px;width:2px;height:105.9px;background:rgba(255,255,255,0.21);"></div>
<div class="r" style="left:1437px;top:1575.2px;width:2px;height:105.9px;background:rgba(255,255,255,0.21);"></div>
<div class="r" style="left:1737px;top:1575.2px;width:2px;height:105.9px;background:rgba(255,255,255,0.21);"></div>
<div class="r" style="left:2037px;top:1575.2px;width:2px;height:105.9px;background:rgba(255,255,255,0.21);"></div>
<div class="r" style="left:2337px;top:1575.2px;width:2px;height:105.9px;background:rgba(255,255,255,0.21);"></div>
<div class="r" style="left:2637px;top:1575.2px;width:2px;height:105.9px;background:rgba(255,255,255,0.21);"></div>
<div class="r" style="left:2937px;top:1575.2px;width:2px;height:105.9px;background:rgba(255,255,255,0.21);"></div>
<div class="t u" style="left:630.6px;top:1613.10px;font-size:28px;color:#fff;font-weight:700;letter-spacing:-0.35px;">TRA23_Registration_2_new_Pgz5yN</div>
<div class="r" style="left:1172px;top:1621.5px;width:13.8px;height:13.8px;background:#5bc873;border-radius:50%"></div>
<div class="t " style="left:1203.3px;top:1613.40px;font-size:28px;color:#fff;font-weight:400;letter-spacing:-0.95px;">6 (100%)</div>
<div class="r" style="left:1472px;top:1621.5px;width:13.8px;height:13.8px;background:#e0483f;border-radius:50%"></div>
<div class="t " style="left:1502.6px;top:1613.40px;font-size:28px;color:#fff;font-weight:400;letter-spacing:-1.1px;">0 (0%)</div>
<div class="r" style="left:1772px;top:1621.5px;width:13.8px;height:13.8px;background:#e0483f;border-radius:50%"></div>
<div class="t " style="left:1802.6px;top:1613.40px;font-size:28px;color:#fff;font-weight:400;letter-spacing:-1.1px;">0 (0%)</div>
<div class="r" style="left:2072px;top:1621.5px;width:13.8px;height:13.8px;background:#e0483f;border-radius:50%"></div>
<div class="t " style="left:2102.6px;top:1613.40px;font-size:28px;color:#fff;font-weight:400;letter-spacing:-1.1px;">0 (0%)</div>
<div class="r" style="left:2484.2px;top:1629.5px;width:7.6px;height:2px;background:#f0f0f4;"></div>
<div class="r" style="left:2784.2px;top:1629.5px;width:7.6px;height:2px;background:#f0f0f4;"></div>
<div class="r" style="left:3084.2px;top:1629.5px;width:7.6px;height:2px;background:#f0f0f4;"></div>
<div class="r" style="left:3188px;top:1575.2px;width:25px;height:107.9px;background:linear-gradient(to right,rgba(0,0,0,0) 0%,rgba(0,0,0,0.05) 45%,rgba(0,0,0,0.17) 100%);"></div>
<div class="r" style="left:3213px;top:1575.2px;width:121px;height:105.9px;background:#3e4259;"></div>
<div class="r" style="left:3246px;top:1600.2px;width:56px;height:56px;background:#50556b;border-radius:50%"></div>
<svg class="ic" style="left:3255.5px;top:1609.7px;width:37px;height:37px" viewBox="0 0 24 24"><path fill="#fff" d="M12 4.5C7 4.5 2.73 7.61 1 12c1.73 4.39 6 7.5 11 7.5s9.27-3.11 11-7.5c-1.73-4.39-6-7.5-11-7.5zM12 17c-2.76 0-5-2.24-5-5s2.24-5 5-5 5 2.24 5 5-2.24 5-5 5zm0-8c-1.66 0-3 1.34-3 3s1.34 3 3 3 3-1.34 3-3-1.34-3-3-3z" /></svg>
<div class="r" style="left:300px;top:1683.1px;width:3034px;height:107.9px;background:#1d2138;"></div>
<div class="r" style="left:300px;top:1789.0px;width:3034px;height:2px;background:rgba(255,255,255,0.21);"></div>
<div class="r" style="left:530px;top:1719.1px;width:34px;height:34px;background:#2c3f6e;border-radius:50%"></div>
<div class="r" style="left:595.7px;top:1683.1px;width:2px;height:105.9px;background:rgba(255,255,255,0.21);"></div>
<div class="r" style="left:1137px;top:1683.1px;width:2px;height:105.9px;background:rgba(255,255,255,0.21);"></div>
<div class="r" style="left:1437px;top:1683.1px;width:2px;height:105.9px;background:rgba(255,255,255,0.21);"></div>
<div class="r" style="left:1737px;top:1683.1px;width:2px;height:105.9px;background:rgba(255,255,255,0.21);"></div>
<div class="r" style="left:2037px;top:1683.1px;width:2px;height:105.9px;background:rgba(255,255,255,0.21);"></div>
<div class="r" style="left:2337px;top:1683.1px;width:2px;height:105.9px;background:rgba(255,255,255,0.21);"></div>
<div class="r" style="left:2637px;top:1683.1px;width:2px;height:105.9px;background:rgba(255,255,255,0.21);"></div>
<div class="r" style="left:2937px;top:1683.1px;width:2px;height:105.9px;background:rgba(255,255,255,0.21);"></div>
<div class="t u" style="left:630.6px;top:1721.00px;font-size:28px;color:#fff;font-weight:700;letter-spacing:-0.28px;">Test performance: C4</div>
<div class="r" style="left:1172px;top:1729.3999999999999px;width:13.8px;height:13.8px;background:#5bc873;border-radius:50%"></div>
<div class="t " style="left:1203.3px;top:1721.30px;font-size:28px;color:#fff;font-weight:400;letter-spacing:-0.29px;">135460 (100%)</div>
<div class="r" style="left:1472px;top:1729.3999999999999px;width:13.8px;height:13.8px;background:#e0483f;border-radius:50%"></div>
<div class="t " style="left:1502.6px;top:1721.30px;font-size:28px;color:#fff;font-weight:400;letter-spacing:-1.1px;">0 (0%)</div>
<div class="r" style="left:1772px;top:1729.3999999999999px;width:13.8px;height:13.8px;background:#e0483f;border-radius:50%"></div>
<div class="t " style="left:1802.6px;top:1721.30px;font-size:28px;color:#fff;font-weight:400;letter-spacing:-1.1px;">0 (0%)</div>
<div class="r" style="left:2072px;top:1729.3999999999999px;width:13.8px;height:13.8px;background:#e0483f;border-radius:50%"></div>
<div class="t " style="left:2102.6px;top:1721.30px;font-size:28px;color:#fff;font-weight:400;letter-spacing:-1.1px;">0 (0%)</div>
<div class="r" style="left:2484.2px;top:1737.3999999999999px;width:7.6px;height:2px;background:#f0f0f4;"></div>
<div class="r" style="left:2784.2px;top:1737.3999999999999px;width:7.6px;height:2px;background:#f0f0f4;"></div>
<div class="r" style="left:3084.2px;top:1737.3999999999999px;width:7.6px;height:2px;background:#f0f0f4;"></div>
<div class="r" style="left:3188px;top:1683.1px;width:25px;height:107.9px;background:linear-gradient(to right,rgba(0,0,0,0) 0%,rgba(0,0,0,0.05) 45%,rgba(0,0,0,0.17) 100%);"></div>
<div class="r" style="left:3213px;top:1683.1px;width:121px;height:105.9px;background:#1d2138;"></div>
<div class="r" style="left:3246px;top:1708.1px;width:56px;height:56px;background:#32364c;border-radius:50%"></div>
<svg class="ic" style="left:3255.5px;top:1717.6px;width:37px;height:37px" viewBox="0 0 24 24"><path fill="#fff" d="M12 4.5C7 4.5 2.73 7.61 1 12c1.73 4.39 6 7.5 11 7.5s9.27-3.11 11-7.5c-1.73-4.39-6-7.5-11-7.5zM12 17c-2.76 0-5-2.24-5-5s2.24-5 5-5 5 2.24 5 5-2.24 5-5 5zm0-8c-1.66 0-3 1.34-3 3s1.34 3 3 3 3-1.34 3-3-1.34-3-3-3z" /></svg>
<div class="r" style="left:300px;top:1791.0px;width:3034px;height:107.9px;background:#3e4259;"></div>
<div class="r" style="left:300px;top:1896.9px;width:3034px;height:2px;background:rgba(255,255,255,0.21);"></div>
<div class="r" style="left:530px;top:1827.0px;width:34px;height:34px;background:#7a4050;border-radius:50%"></div>
<div class="r" style="left:595.7px;top:1791.0px;width:2px;height:105.9px;background:rgba(255,255,255,0.21);"></div>
<div class="r" style="left:1137px;top:1791.0px;width:2px;height:105.9px;background:rgba(255,255,255,0.21);"></div>
<div class="r" style="left:1437px;top:1791.0px;width:2px;height:105.9px;background:rgba(255,255,255,0.21);"></div>
<div class="r" style="left:1737px;top:1791.0px;width:2px;height:105.9px;background:rgba(255,255,255,0.21);"></div>
<div class="r" style="left:2037px;top:1791.0px;width:2px;height:105.9px;background:rgba(255,255,255,0.21);"></div>
<div class="r" style="left:2337px;top:1791.0px;width:2px;height:105.9px;background:rgba(255,255,255,0.21);"></div>
<div class="r" style="left:2637px;top:1791.0px;width:2px;height:105.9px;background:rgba(255,255,255,0.21);"></div>
<div class="r" style="left:2937px;top:1791.0px;width:2px;height:105.9px;background:rgba(255,255,255,0.21);"></div>
<div class="t u" style="left:630.6px;top:1828.90px;font-size:28px;color:#fff;font-weight:700;letter-spacing:-0.72px;">Test case: RC-08</div>
<div class="r" style="left:1284.2px;top:1845.3px;width:7.6px;height:2px;background:#f0f0f4;"></div>
<div class="r" style="left:1584.2px;top:1845.3px;width:7.6px;height:2px;background:#f0f0f4;"></div>
<div class="r" style="left:1884.2px;top:1845.3px;width:7.6px;height:2px;background:#f0f0f4;"></div>
<div class="r" style="left:2184.2px;top:1845.3px;width:7.6px;height:2px;background:#f0f0f4;"></div>
<div class="r" style="left:2484.2px;top:1845.3px;width:7.6px;height:2px;background:#f0f0f4;"></div>
<div class="r" style="left:2784.2px;top:1845.3px;width:7.6px;height:2px;background:#f0f0f4;"></div>
<div class="r" style="left:3084.2px;top:1845.3px;width:7.6px;height:2px;background:#f0f0f4;"></div>
<div class="r" style="left:3188px;top:1791.0px;width:25px;height:107.9px;background:linear-gradient(to right,rgba(0,0,0,0) 0%,rgba(0,0,0,0.05) 45%,rgba(0,0,0,0.17) 100%);"></div>
<div class="r" style="left:3213px;top:1791.0px;width:121px;height:105.9px;background:#3e4259;"></div>
<div class="r" style="left:3246px;top:1816.0px;width:56px;height:56px;background:#50556b;border-radius:50%"></div>
<svg class="ic" style="left:3255.5px;top:1825.5px;width:37px;height:37px" viewBox="0 0 24 24"><path fill="#fff" d="M12 4.5C7 4.5 2.73 7.61 1 12c1.73 4.39 6 7.5 11 7.5s9.27-3.11 11-7.5c-1.73-4.39-6-7.5-11-7.5zM12 17c-2.76 0-5-2.24-5-5s2.24-5 5-5 5 2.24 5 5-2.24 5-5 5zm0-8c-1.66 0-3 1.34-3 3s1.34 3 3 3 3-1.34 3-3-1.34-3-3-3z" /></svg>
<div class="r" style="left:300px;top:1898.9px;width:3034px;height:107.9px;background:#1d2138;"></div>
<div class="r" style="left:300px;top:2004.8000000000002px;width:3034px;height:2px;background:rgba(255,255,255,0.21);"></div>
<div class="r" style="left:530px;top:1934.9px;width:34px;height:34px;background:#2c3f6e;border-radius:50%"></div>
<div class="r" style="left:595.7px;top:1898.9px;width:2px;height:105.9px;background:rgba(255,255,255,0.21);"></div>
<div class="r" style="left:1137px;top:1898.9px;width:2px;height:105.9px;background:rgba(255,255,255,0.21);"></div>
<div class="r" style="left:1437px;top:1898.9px;width:2px;height:105.9px;background:rgba(255,255,255,0.21);"></div>
<div class="r" style="left:1737px;top:1898.9px;width:2px;height:105.9px;background:rgba(255,255,255,0.21);"></div>
<div class="r" style="left:2037px;top:1898.9px;width:2px;height:105.9px;background:rgba(255,255,255,0.21);"></div>
<div class="r" style="left:2337px;top:1898.9px;width:2px;height:105.9px;background:rgba(255,255,255,0.21);"></div>
<div class="r" style="left:2637px;top:1898.9px;width:2px;height:105.9px;background:rgba(255,255,255,0.21);"></div>
<div class="r" style="left:2937px;top:1898.9px;width:2px;height:105.9px;background:rgba(255,255,255,0.21);"></div>
<div class="r" style="left:1284.2px;top:1953.2px;width:7.6px;height:2px;background:#f0f0f4;"></div>
<div class="r" style="left:1584.2px;top:1953.2px;width:7.6px;height:2px;background:#f0f0f4;"></div>
<div class="r" style="left:1884.2px;top:1953.2px;width:7.6px;height:2px;background:#f0f0f4;"></div>
<div class="r" style="left:2184.2px;top:1953.2px;width:7.6px;height:2px;background:#f0f0f4;"></div>
<div class="r" style="left:2484.2px;top:1953.2px;width:7.6px;height:2px;background:#f0f0f4;"></div>
<div class="r" style="left:2784.2px;top:1953.2px;width:7.6px;height:2px;background:#f0f0f4;"></div>
<div class="r" style="left:3084.2px;top:1953.2px;width:7.6px;height:2px;background:#f0f0f4;"></div>
<div class="r" style="left:3188px;top:1898.9px;width:25px;height:107.9px;background:linear-gradient(to right,rgba(0,0,0,0) 0%,rgba(0,0,0,0.05) 45%,rgba(0,0,0,0.17) 100%);"></div>
<div class="r" style="left:3213px;top:1898.9px;width:121px;height:105.9px;background:#1d2138;"></div>
<div class="r" style="left:3246px;top:1923.9px;width:56px;height:56px;background:#32364c;border-radius:50%"></div>
<svg class="ic" style="left:3255.5px;top:1933.4px;width:37px;height:37px" viewBox="0 0 24 24"><path fill="#fff" d="M12 4.5C7 4.5 2.73 7.61 1 12c1.73 4.39 6 7.5 11 7.5s9.27-3.11 11-7.5c-1.73-4.39-6-7.5-11-7.5zM12 17c-2.76 0-5-2.24-5-5s2.24-5 5-5 5 2.24 5 5-2.24 5-5 5zm0-8c-1.66 0-3 1.34-3 3s1.34 3 3 3 3-1.34 3-3-1.34-3-3-3z" /></svg>
<div class="r" style="left:3188px;top:638px;width:25px;height:72px;background:linear-gradient(to right,rgba(0,0,0,0) 0%,rgba(0,0,0,0.05) 45%,rgba(0,0,0,0.17) 100%);"></div>
<div class="r" style="left:3336px;top:392px;width:32px;height:1600px;background:#283152;"></div>
</div>
<div class="r" style="left:3432px;top:1020px;width:8px;height:903px;background:#8d8d8d;border-radius:0 0 4px 4px"></div>
<div class="r" style="left:3432px;top:0px;width:8px;height:1027px;background:#3478f6;border-radius:4px"></div>
<div id="side">
<div class="r" style="left:0px;top:0px;width:12px;height:1924px;background:#5a543f;"></div>
<svg class="ic" style="left:88px;top:28px;width:52px;height:72px" viewBox="0 0 52 72">
<path d="M41.5 11.5C37.5 8 32.5 6.6 27 6.6C16 6.6 8.4 15 8.4 26C8.4 30.5 9.6 34.2 11.8 37.2" fill="none" stroke="#fff" stroke-width="5.2"/>
<path d="M11.8 37.2C9.6 40.3 8.4 44.3 8.4 48.6C8.4 58.4 16.6 65.4 27 65.4C37.2 65.4 43.6 58 43.6 49.3L43.6 48.9L29.5 48.9" fill="none" stroke="#fff" stroke-width="5"/>
<path fill-rule="evenodd" fill="#fff" d="M11 36C15.5 29 23.5 25 33 25L46 25L46 28C46 38.5 38 46.8 27 46.8C20 46.8 14.2 43 11 36ZM15 35.5C19 31.5 23 30 26.5 30C31 30 35 32 38 34.5C35 38.5 31 41.5 26.5 41.5C22 41.5 18 39.5 15 35.5Z"/>
<circle cx="26.5" cy="35.8" r="3.8" fill="#e29233"/>
</svg>
<div class="t " style="left:147px;top:40.80px;font-size:42px;color:#fff;font-weight:400;transform:scaleX(0.925);transform-origin:0 0;">Gamanza Engage™</div>
<div class="t " style="left:501.7px;transform:translateX(-100%);top:92.10px;font-size:24px;color:#dfe0e6;font-weight:400;letter-spacing:0.2px;">v1.4.0</div>
<div class="r" style="left:52px;top:128px;width:466px;height:2px;background:#3a3e53;"></div>
<div class="r" style="left:66px;top:162px;width:232px;height:72px;background:transparent;border:2.5px solid #fff;border-radius:36px"></div>
<div class="r" style="left:123px;top:196px;width:22px;height:3px;background:#fff;"></div>
<div class="r" style="left:132px;top:186px;width:3px;height:22px;background:#fff;"></div>
<div class="t " style="left:167.5px;top:182.90px;font-size:26px;color:#fff;font-weight:700;letter-spacing:0.28px;">Create</div>
<div class="r" style="left:0px;top:266px;width:520px;height:96px;background:#5a543f;border-radius:0 8px 8px 0"></div>
<div class="t " style="left:164px;top:299.75px;font-size:25px;color:#e7c64b;font-weight:700;letter-spacing:1.2px;">QA</div>
<svg class="ic" style="left:88.2px;top:422.05px;width:39.599999999999994px;height:39.599999999999994px" viewBox="0 0 24 24"><path fill="#fff" d="M12 5.69l5 4.5V18h-2v-6H9v6H7v-7.81l5-4.5M12 3L2 12h3v8h6v-6h2v6h6v-8h3L12 3z" /></svg>
<div class="t " style="left:163.0px;top:431.20px;font-size:28px;color:#fff;font-weight:400;letter-spacing:1.34px;">Home</div>
<div class="r" style="left:52px;top:498px;width:458px;height:96px;background:#1f2a4b;border-radius:8px"></div>
<svg class="ic" style="left:87.666px;top:525.999px;width:40.008px;height:40.008px" viewBox="0 0 24 24"><path fill="#3478f6" d="M2.01 21L23 12 2.01 3 2 10l15 2-15 2z" /></svg>
<div class="t " style="left:164.0px;top:535.20px;font-size:28px;color:#3478f6;font-weight:400;letter-spacing:-0.53px;">CRM</div>
<svg class="ic" style="left:470.002px;top:530.336px;width:31.991999999999997px;height:31.991999999999997px" viewBox="0 0 24 24"><path fill="#3478f6" d="M12 8l-6 6 1.41 1.41L12 10.83l4.59 4.58L18 14z" /></svg>
<div class="r" style="left:52px;top:676px;width:458px;height:65px;background:#1f2a4b;border-radius:8px"></div>
<div class="t " style="left:155.7px;top:621.20px;font-size:28px;color:#c9cad0;font-weight:400;letter-spacing:0.22px;">Campaigns</div>
<div class="t " style="left:157px;top:695.10px;font-size:28px;color:#3478f6;font-weight:400;letter-spacing:-0.08px;">Analytics</div>
<div class="t " style="left:155.4px;top:769.00px;font-size:28px;color:#c9cad0;font-weight:400;letter-spacing:0.04px;">Segments</div>
<div class="t " style="left:155.4px;top:842.90px;font-size:28px;color:#c9cad0;font-weight:400;letter-spacing:0.22px;">Templates</div>
<div class="t " style="left:155.4px;top:916.80px;font-size:28px;color:#c9cad0;font-weight:400;letter-spacing:0.14px;">Custom Triggers</div>
<div class="t " style="left:154.4px;top:990.70px;font-size:28px;color:#c9cad0;font-weight:400;letter-spacing:0.08px;">Frequency Cap</div>
<div class="t " style="left:154.4px;top:1064.60px;font-size:28px;color:#c9cad0;font-weight:400;letter-spacing:0.06px;">Unsubscribe Report</div>
<div class="t " style="left:154.4px;top:1138.50px;font-size:28px;color:#c9cad0;font-weight:400;letter-spacing:-0.18px;">Player Data</div>
<svg class="ic" style="left:87.9752px;top:1221.615px;width:40.248000000000005px;height:40.248000000000005px" viewBox="0 0 24 24"><path fill="#fff" d="M21.58 16.09l-1.09-7.66C20.21 6.46 18.52 5 16.53 5H7.47C5.48 5 3.79 6.46 3.51 8.43l-1.09 7.66C2.2 17.63 3.39 19 4.94 19c.68 0 1.32-.27 1.8-.75L9 16h6l2.25 2.25c.48.48 1.13.75 1.8.75 1.56 0 2.75-1.37 2.53-2.91zM11 11H9v2H8v-2H6v-1h2V8h1v2h2v1zm4-1c-.55 0-1-.45-1-1s.45-1 1-1 1 .45 1 1-.45 1-1 1zm2 3c-.55 0-1-.45-1-1s.45-1 1-1 1 .45 1 1-.45 1-1 1z" /></svg>
<div class="t " style="left:164.0px;top:1231.20px;font-size:28px;color:#fff;font-weight:400;letter-spacing:0.42px;">Gamification</div>
<svg class="ic" style="left:470.002px;top:1226.336px;width:31.991999999999997px;height:31.991999999999997px" viewBox="0 0 24 24"><path fill="#fff" d="M12 8l-6 6 1.41 1.41L12 10.83l4.59 4.58L18 14z" /></svg>
<div class="t " style="left:155px;top:1316.20px;font-size:28px;color:#c9cad0;font-weight:400;letter-spacing:-0.08px;">Missions</div>
<div class="t " style="left:155px;top:1390.20px;font-size:28px;color:#c9cad0;font-weight:400;letter-spacing:0.04px;">Mission Bundles</div>
<div class="t " style="left:155px;top:1464.20px;font-size:28px;color:#c9cad0;font-weight:400;letter-spacing:-1.25px;">Ranks</div>
<div class="t " style="left:155px;top:1538.20px;font-size:28px;color:#c9cad0;font-weight:400;letter-spacing:-0.33px;">Token Rules Casino</div>
<div class="t " style="left:155px;top:1612.20px;font-size:28px;color:#c9cad0;font-weight:400;letter-spacing:-0.26px;">Token Rules Sports</div>
<div class="t " style="left:155px;top:1686.20px;font-size:28px;color:#c9cad0;font-weight:400;letter-spacing:-0.36px;">XP Point Rules Casino</div>
<div class="r" style="left:52px;top:1770px;width:466px;height:2px;background:#3a3e53;"></div>
<svg class="ic" style="left:87.65px;top:1815.65px;width:40.2px;height:40.2px" viewBox="0 0 24 24"><path fill="#fff" d="M11 18h2v-2h-2v2zm1-16C6.48 2 2 6.48 2 12s4.48 10 10 10 10-4.48 10-10S17.52 2 12 2zm0 18c-4.41 0-8-3.59-8-8s3.59-8 8-8 8 3.59 8 8-3.59 8-8 8zm0-14c-2.21 0-4 1.790-4 4h2c0-1.1.9-2 2-2s2 .9 2 2c0 2-3 1.75-3 5h2c0-2.250 3-2.5 3-5 0-2.21-1.79-4-4-4z" /></svg>
<div class="t " style="left:163.0px;top:1824.20px;font-size:28px;color:#fff;font-weight:400;letter-spacing:0.58px;">Help &amp; Support</div>
<div class="r" style="left:550px;top:1330px;width:8px;height:383px;background:#8d8d8d;border-radius:0 0 4px 4px"></div>
<div class="r" style="left:550px;top:362px;width:8px;height:968px;background:#3478f6;border-radius:4px"></div>
</div>
</body></html>
